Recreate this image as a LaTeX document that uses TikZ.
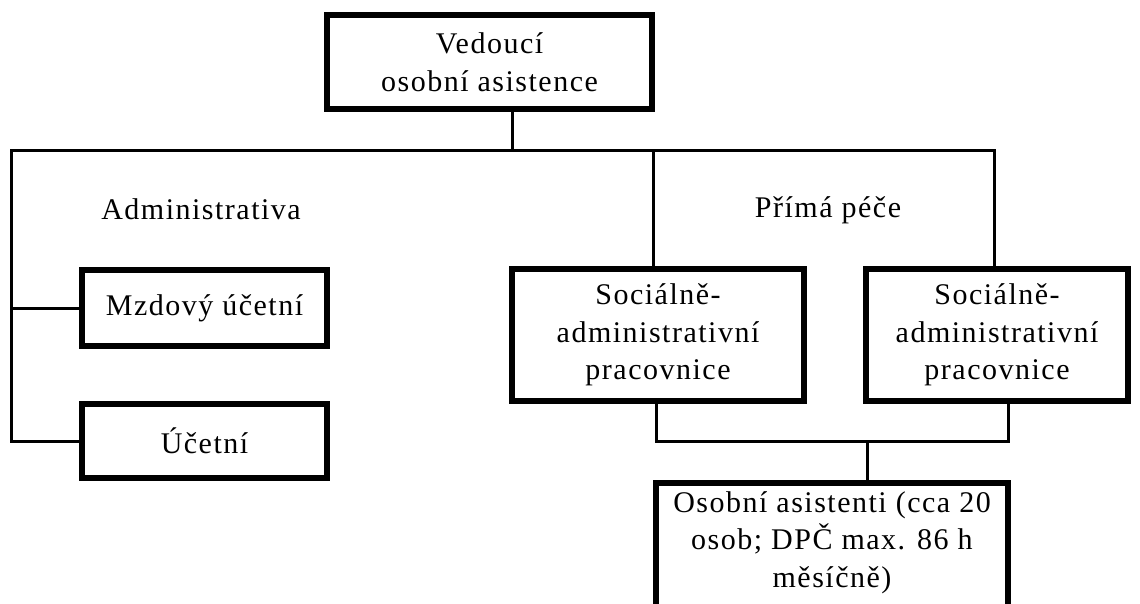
\documentclass[tikz,border=0pt]{standalone}
\usepackage{fontspec}
\setmainfont{Liberation Serif}[LetterSpace=5]
\begin{document}
\begin{tikzpicture}[x=1pt,y=-1pt,
  box/.style={draw=black,line width=5.5pt,inner sep=0pt,align=center,font=\fontsize{30}{37.5}\selectfont},
  lbl/.style={inner sep=0pt,align=center,font=\fontsize{30}{37.5}\selectfont},
  conn/.style={draw=black,line width=3pt}]
\useasboundingbox (0,0) rectangle (1140,603);
\clip (0,0) rectangle (1140,603);
\fill[white] (0,0) rectangle (1140,603);
% boxes
\node[box,minimum width=325pt,minimum height=94pt] (head) at (489.5,62) {Vedoucí\\osobní asistence};
\node[box,minimum width=245pt,minimum height=76pt] (mzd) at (204.5,308) {Mzdový účetní};
\node[box,minimum width=245pt,minimum height=74pt] (uc) at (204.5,441) {Účetní};
\node[box,minimum width=292pt,minimum height=132pt] (soc1) at (658,335) {Sociálně-\\administrativní\\pracovnice};
\node[box,minimum width=262pt,minimum height=132pt] (soc2) at (997,335) {Sociálně-\\administrativní\\pracovnice};
\node[box,minimum width=352pt,minimum height=160pt,anchor=north] (os) at (832,480) {};
\node[lbl,anchor=north] (ostxt) at ([yshift=-11pt]os.north) {Osobní asistenti (cca 20\\osob; DPČ max. 86 h\\měsíčně)};
% labels
\node[lbl] (adm) at (201,209) {Administrativa};
\node[lbl] (pp) at (828,210) {Přímá péče};
% connectors
\coordinate (hb) at (512,150);
\coordinate (hl) at (11,150);
\coordinate (hr) at (994,150);
\coordinate (hm) at (653,150);
\coordinate (lb) at (11,441);
\coordinate (jl) at (656,441);
\coordinate (jr) at (1008,441);
\coordinate (jm) at (867,441);
\draw[conn] (head.south -| hb) -- (hb);
\draw[conn,line cap=rect] (hl) -- (hr);
\draw[conn] (hl) -- (lb) -- (uc.west);
\draw[conn] (mzd.west -| hl) -- (mzd.west);
\draw[conn] (hm) -- (soc1.north -| hm);
\draw[conn] (hr) -- (soc2.north -| hr);
\draw[conn] (soc1.south -| jl) -- (jl) -- (jr) -- (soc2.south -| jr);
\draw[conn] (jm) -- (os.north -| jm);
\end{tikzpicture}
\end{document}
